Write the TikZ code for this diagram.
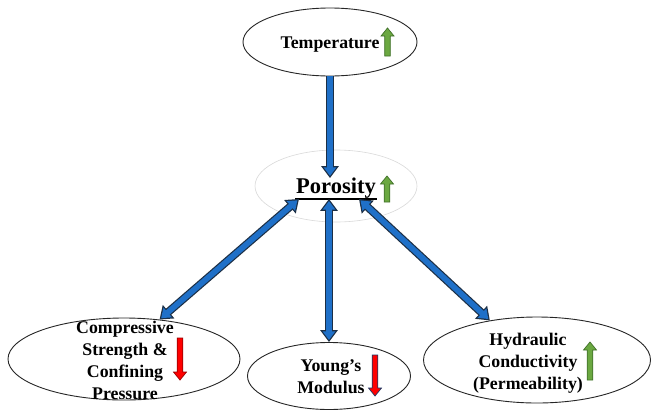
\documentclass[tikz,border=0pt]{standalone}
\usepackage{fontspec}
\setmainfont{Liberation Serif}
\usetikzlibrary{positioning}
\usetikzlibrary{calc}
\usetikzlibrary{shapes.geometric}
\usetikzlibrary{arrows.meta}

\definecolor{linkblue}{HTML}{1F70C8}
\definecolor{linkedge}{HTML}{1C2F45}
\definecolor{risefill}{HTML}{6BA841}
\definecolor{riseedge}{HTML}{41702A}
\definecolor{dropfill}{HTML}{FF0000}
\definecolor{dropedge}{HTML}{9A0000}
\definecolor{navyedge}{HTML}{1F3864}

% green up mark: x, top y, bottom y
\newcommand{\risemark}[3]{%
  \draw[risebox] (#1-2.8,#3) -- (#1-2.8,#2+8) -- (#1-6.5,#2+8) -- (#1,#2)
    -- (#1+6.5,#2+8) -- (#1+2.8,#2+8) -- (#1+2.8,#3) -- cycle;}
% red down mark: x, top y, bottom y, edge colour
\newcommand{\dropmark}[4]{%
  \draw[dropbox, draw=#4] (#1-2.8,#2) -- (#1-2.8,#3-8) -- (#1-6.5,#3-8) -- (#1,#3)
    -- (#1+6.5,#3-8) -- (#1+2.8,#3-8) -- (#1+2.8,#2) -- cycle;}

\begin{document}
\begin{tikzpicture}[x=1pt, y=-1pt,
  oval/.style={ellipse, draw=black!85, line width=0.9pt, inner sep=0pt},
  words/.style={font=\fontsize{17.8}{22}\selectfont\bfseries, align=center, inner sep=0pt},
  risebox/.style={fill=risefill, draw=riseedge, line width=0.7pt},
  dropbox/.style={fill=dropfill, line width=0.7pt},
  link/.style={line width=8pt, draw=linkedge,
    {Triangle[length=12pt,width=17pt]}-{Triangle[length=12pt,width=17pt]},
    postaction={draw=linkblue, line width=5.6pt, shorten <=2.1pt, shorten >=2.1pt,
      {Triangle[length=8.7pt,width=12.3pt]}-{Triangle[length=8.7pt,width=12.3pt]}}},
  linkdown/.style={line width=8pt, draw=linkedge,
    -{Triangle[length=12pt,width=17pt]},
    postaction={draw=linkblue, line width=5.6pt, shorten >=2.1pt,
      -{Triangle[length=8.7pt,width=12.3pt]}}}]
  \useasboundingbox[fill=white] (0,0) rectangle (656,410);

  % outlines
  \node[oval, minimum width=174, minimum height=68] (temp) at (330,42) {};
  \node[ellipse, draw=black!15, line width=0.6pt, minimum width=162, minimum height=72] (halo) at (336,186) {};
  \node[oval, minimum width=232, minimum height=82] (comp) at (124,359) {};
  \node[oval, minimum width=163, minimum height=67] (young) at (329,376) {};
  \node[oval, minimum width=227, minimum height=86] (hydr) at (537,360) {};

  % centre term
  \node[font=\fontsize{22.5}{26}\selectfont\bfseries, inner xsep=1pt, inner ysep=0pt] (poro) at (336,188.5) {Porosity};
  \draw[line width=1.6pt] (poro.south west) -- (poro.south east);

  % connectors
  \draw[linkdown] (temp.south) -- (temp.south |- poro.north);
  \draw[link] ($(poro.south west)+(4,0)$) -- (comp.48);
  \draw[link] (poro.south -| young.north) -- (young.north);
  \draw[link] ($(poro.south east)+(-18,0)$) -- (hydr.140);

  % labels
  \node[words] (templabel) at (330,45) {Temperature};
  \node[words] (complabel) at (125,360) {Compressive\\Strength \&\\Confining\\Pressure};
  \node[words] (younglabel) at (331,376.5) {Young’s\\Modulus};
  \node[words] (hydrlabel) at (528,363) {Hydraulic\\Conductivity\\(Permeability)};

  % trend marks
  \risemark{387.5}{28}{56}
  \risemark{387}{176}{202}
  \dropmark{180}{338}{380}{dropedge}
  \dropmark{375}{355}{396}{navyedge}
  \risemark{590}{342}{380}
\end{tikzpicture}
\end{document}
